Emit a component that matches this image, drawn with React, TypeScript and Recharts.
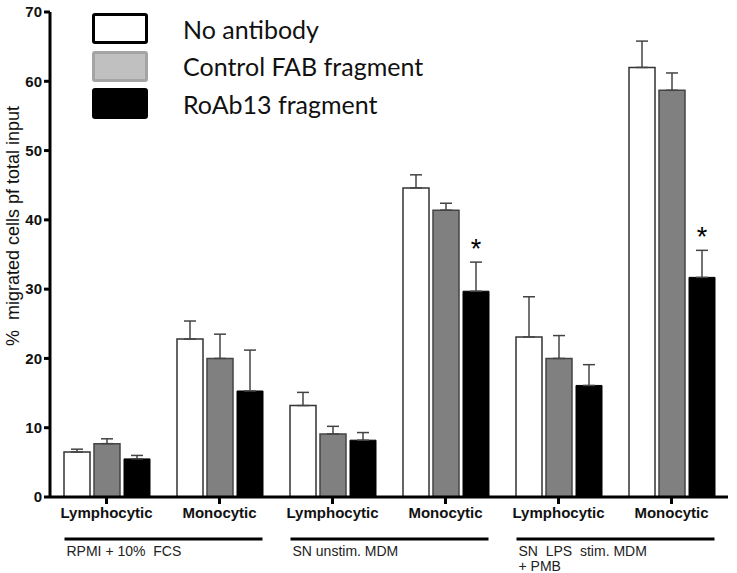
import React from 'react';
import { BarChart, Bar, XAxis, YAxis, ErrorBar, Legend, LabelList } from 'recharts';

const categories = ['Lymphocytic', 'Monocytic', 'Lymphocytic', 'Monocytic', 'Lymphocytic', 'Monocytic'];
const groupLabels: string[][] = [['RPMI + 10%  FCS'], [], ['SN unstim. MDM'], [], ['SN  LPS  stim. MDM', '+ PMB'], []];
const seriesNames = ['No antibody', 'Control FAB fragment', 'RoAb13 fragment'];
const yTicks = [0, 10, 20, 30, 40, 50, 60, 70];

const noAb = [6.5, 22.8, 13.2, 44.6, 23.1, 62.0];
const noAbErr = [0.4, 2.6, 1.9, 1.9, 5.8, 3.8];
const ctrl = [7.7, 20.0, 9.1, 41.4, 20.0, 58.7];
const ctrlErr = [0.7, 3.5, 1.1, 1.0, 3.3, 2.5];
const roab = [5.5, 15.3, 8.2, 29.7, 16.1, 31.7];
const roabErr = [0.5, 5.9, 1.1, 4.2, 3.0, 3.9];
const sig = ['', '', '', '*', '', '*'];

const FONT = "'Liberation Sans', Arial, sans-serif";

const data = categories.map((c, i) => ({
  cat: c,
  noAb: noAb[i],
  noAbErr: [0, noAbErr[i]],
  ctrl: ctrl[i],
  ctrlErr: [0, ctrlErr[i]],
  roab: roab[i],
  roabErr: [0, roabErr[i]],
  sig: sig[i],
}));

const legendStyles = [
  { background: '#ffffff', border: '3px solid #000000' },
  { background: '#c0c0c0', border: '3px solid #a4a4a4' },
  { background: '#000000', border: '3px solid #000000' },
];

const LegendContent = () => (
  <div style={{ display: 'flex', flexDirection: 'column' }}>
    {seriesNames.map((n, i) => (
      <div key={n} style={{ display: 'flex', alignItems: 'center', height: 37.5 }}>
        <div style={{ width: 50, height: 25, borderRadius: 3, ...legendStyles[i] }} />
        <span style={{ marginLeft: 35, fontFamily: 'Lato, "Open Sans", sans-serif', fontSize: 25, color: '#111', lineHeight: '30px' }}>{n}</span>
      </div>
    ))}
  </div>
);

const CategoryTick = (props: any) => {
  const { x, y, payload, index } = props;
  const labels = groupLabels[index] || [];
  return (
    <g>
      <text x={x} y={y + 12} textAnchor="middle" fontFamily={FONT} fontWeight="bold" fontSize={15} fill="#111">
        {payload.value}
      </text>
      {labels.length > 0 && (
        <g>
          <line x1={x - 42} x2={x + 156} y1={y + 33} y2={y + 33} stroke="#000" strokeWidth={3} />
          {labels.map((l, j) => (
            <text key={j} x={x - 40} y={y + 50 + j * 15} fontFamily={FONT} fontSize={14} fill="#222" style={{ whiteSpace: 'pre' }}>
              {l}
            </text>
          ))}
        </g>
      )}
    </g>
  );
};

const StarLabel = (props: any) => {
  const { x, y, width, height, value, index } = props;
  if (!value) return null;
  const pxPerUnit = height / roab[index];
  const errTop = y - roabErr[index] * pxPerUnit;
  return (
    <text x={x + width / 2} y={errTop - 4} textAnchor="middle" fontFamily={FONT} fontSize={27} fill="#000">
      {value}
    </text>
  );
};

const YLabel = () => (
  <text x={19} y={226} transform="rotate(-90 19 226)" textAnchor="middle" fontFamily={FONT} fontSize={18} fill="#111" style={{ whiteSpace: 'pre' }}>
    {'%  migrated cells pf total input'}
  </text>
);

export default function App() {
  return (
    <div style={{ position: 'absolute', left: 0, top: 0, width: 737, height: 573, background: '#fff' }}>
      <BarChart
        width={737}
        height={573}
        data={data}
        margin={{ top: 12, right: 9, bottom: 46, left: 0 }}
        barCategoryGap={14}
        barGap={4}
      >
        <XAxis
          dataKey="cat"
          allowDuplicatedCategory
          height={30}
          axisLine={{ stroke: '#000', strokeWidth: 3 }}
          tickLine={{ stroke: '#000', strokeWidth: 3 }}
          tickSize={7}
          tick={<CategoryTick />}
          interval={0}
        />
        <YAxis
          domain={[0, 70]}
          ticks={yTicks}
          width={50}
          axisLine={{ stroke: '#000', strokeWidth: 3 }}
          tickLine={{ stroke: '#000', strokeWidth: 3 }}
          tickSize={6}
          tick={{ fontFamily: FONT, fontWeight: 'bold', fontSize: 15, fill: '#111' }}
          label={<YLabel />}
        />
        <Legend
          layout="horizontal"
          verticalAlign="middle"
          align="center"
          content={<LegendContent />}
          wrapperStyle={{ position: 'absolute', top: 10, left: 92, width: 360, height: 115 }}
        />
        <Bar dataKey="noAb" name={seriesNames[0]} fill="#ffffff" stroke="#333" strokeWidth={1.5} isAnimationActive={false}>
          <ErrorBar dataKey="noAbErr" width={6} stroke="#444" strokeWidth={1.5} direction="y" isAnimationActive={false} />
        </Bar>
        <Bar dataKey="ctrl" name={seriesNames[1]} fill="#808080" stroke="#444" strokeWidth={1.5} isAnimationActive={false}>
          <ErrorBar dataKey="ctrlErr" width={6} stroke="#444" strokeWidth={1.5} direction="y" isAnimationActive={false} />
        </Bar>
        <Bar dataKey="roab" name={seriesNames[2]} fill="#000000" stroke="#000" strokeWidth={1} isAnimationActive={false}>
          <ErrorBar dataKey="roabErr" width={6} stroke="#444" strokeWidth={1.5} direction="y" isAnimationActive={false} />
          <LabelList dataKey="sig" content={<StarLabel />} />
        </Bar>
      </BarChart>
    </div>
  );
}
